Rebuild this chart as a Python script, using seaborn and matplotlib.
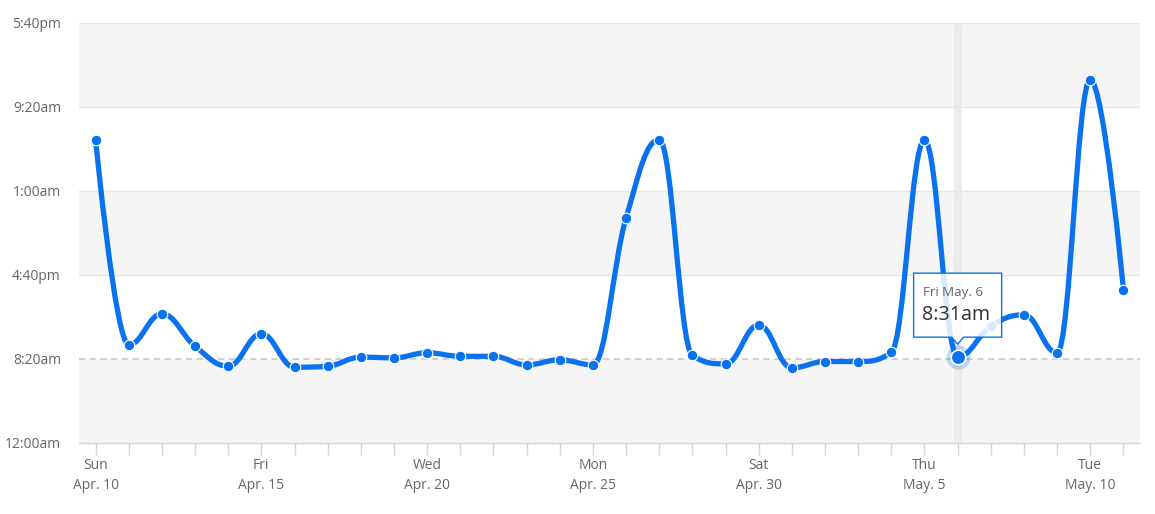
"""
plot.py
Daily time-of-day line (spline) with hover tooltip, Highcharts look.
"""
import numpy as np
import pandas as pd
import matplotlib
matplotlib.use("Agg")
import matplotlib.pyplot as plt
import matplotlib.transforms as mtransforms
from matplotlib.path import Path
from matplotlib.patches import PathPatch, Polygon
import seaborn as sns

# minutes after midnight (axis runs past 24h: 1:00am is 1500 = next day)
MINUTES = [1806, 584, 769, 576, 457, 650, 451, 457, 511, 507, 537, 516, 516,
           465, 495, 465, 1340, 1805, 521, 471, 703, 447, 485, 485, 540, 1803,
           511, 695, 763, 537, 2163, 913]
DAY_TICKS = [0, 5, 10, 15, 20, 25, 30]
DAY_LABELS = ["Sun\nApr. 10", "Fri\nApr. 15", "Wed\nApr. 20", "Mon\nApr. 25",
              "Sat\nApr. 30", "Thu\nMay. 5", "Tue\nMay. 10"]
Y_TICKS = [0, 500, 1000, 1500, 2000, 2500]
Y_LABELS = ["12:00am", "8:20am", "4:40pm", "1:00am", "9:20am", "5:40pm"]
HOVER_IDX = 26
HOVER_DATE = "Fri May. 6"

BLUE = "#0b72ef"


def fmt_time(m):
    m = int(m) % 1440
    h, mm = divmod(m, 60)
    suffix = "am" if h < 12 else "pm"
    h12 = h % 12 or 12
    return f"{h12}:{mm:02d}{suffix}"


def spline_path(xs, ys, smoothing=1.5):
    # Highcharts style spline control points
    n = len(xs)
    denom = smoothing + 1
    left = [(xs[i], ys[i]) for i in range(n)]
    right = [(xs[i], ys[i]) for i in range(n)]
    for i in range(1, n - 1):
        lx, ly = xs[i - 1], ys[i - 1]
        px, py = xs[i], ys[i]
        nx, ny = xs[i + 1], ys[i + 1]
        lcx = (smoothing * px + lx) / denom
        lcy = (smoothing * py + ly) / denom
        rcx = (smoothing * px + nx) / denom
        rcy = (smoothing * py + ny) / denom
        if rcx != lcx:
            corr = ((rcy - lcy) * (rcx - px)) / (rcx - lcx) + py - rcy
            lcy += corr
            rcy += corr
        if lcy > ly and lcy > py:
            lcy = max(ly, py)
            rcy = 2 * py - lcy
        elif lcy < ly and lcy < py:
            lcy = min(ly, py)
            rcy = 2 * py - lcy
        if rcy > ny and rcy > py:
            rcy = max(ny, py)
            lcy = 2 * py - rcy
        elif rcy < ny and rcy < py:
            rcy = min(ny, py)
            lcy = 2 * py - rcy
        left[i] = (lcx, lcy)
        right[i] = (rcx, rcy)
    verts = [(xs[0], ys[0])]
    codes = [Path.MOVETO]
    for i in range(1, n):
        verts += [right[i - 1], left[i], (xs[i], ys[i])]
        codes += [Path.CURVE4] * 3
    return Path(verts, codes)


def main():
    sns.set_theme(style="white")
    plt.rcParams["font.family"] = ["Open Sans", "DejaVu Sans"]

    df = pd.DataFrame({"day": np.arange(len(MINUTES)), "minutes": MINUTES})

    fig = plt.figure(figsize=(11.55, 5.14), dpi=100)
    ax = fig.add_axes([79 / 1155, 1 - 443 / 514, (1140 - 79) / 1155, (443 - 23) / 514])

    # alternating plot bands
    for lo in Y_TICKS[:-1:2]:
        ax.axhspan(lo, lo + 500, color="#f5f5f5", zorder=0, lw=0)
    for y in Y_TICKS[2:]:
        ax.axhline(y, color="#e6e6e6", lw=1, zorder=1)
    ax.axhline(500, color="#c4c4c4", lw=1.1, ls=(0, (4, 3)), zorder=1)

    # hover crosshair
    ax.axvspan(HOVER_IDX - 0.12, HOVER_IDX + 0.12, color="#e9e9e9", alpha=0.8,
               zorder=1.5, lw=0)

    path = spline_path(df["day"].tolist(), df["minutes"].tolist())
    ax.add_patch(PathPatch(path, facecolor="none", edgecolor=BLUE, lw=3.8,
                           capstyle="round", joinstyle="round", zorder=3))
    sns.scatterplot(data=df, x="day", y="minutes", ax=ax, s=58, color=BLUE,
                    edgecolor="white", linewidth=0.8, zorder=4, legend=False)

    hx, hy = df.loc[HOVER_IDX, "day"], df.loc[HOVER_IDX, "minutes"]
    ax.scatter([hx], [hy], s=300, color=BLUE, alpha=0.25, lw=0, zorder=4.5)
    ax.scatter([hx], [hy], s=110, color=BLUE, edgecolor="white", lw=1.2, zorder=5)

    ax.set_xlim(-0.5, len(MINUTES) - 0.5)
    ax.set_ylim(0, 2500)
    ax.set_xticks(df["day"])
    ax.set_xticklabels([DAY_LABELS[DAY_TICKS.index(d)] if d in DAY_TICKS else ""
                        for d in df["day"]])
    ax.set_yticks(Y_TICKS)
    ax.set_yticklabels(Y_LABELS)
    ax.set_xlabel("")
    ax.set_ylabel("")
    for s in ["top", "right", "left"]:
        ax.spines[s].set_visible(False)
    ax.spines["bottom"].set_color("#ccd6eb")
    ax.spines["bottom"].set_linewidth(1)
    ax.spines["bottom"].set_zorder(2)
    ax.tick_params(axis="x", length=8.5, width=1, color="#ccd6eb", pad=2,
                   labelsize=10, labelcolor="#666666", bottom=True)
    ax.tick_params(axis="y", length=0, pad=13, labelsize=10, labelcolor="#666666")
    for t in ax.get_xticklabels():
        t.set_linespacing(1.45)

    # tooltip, drawn in pixel offsets from the hovered point
    trans = mtransforms.Affine2D() + mtransforms.ScaledTranslation(hx, hy, ax.transData)
    box = [(-44, 20), (-6, 20), (0, 13), (6, 20), (44, 20), (44, 84),
           (-44, 84)]
    ax.add_patch(Polygon(box, closed=True, transform=trans, facecolor="white",
                         alpha=0.85, edgecolor="none", zorder=6, clip_on=False))
    ax.add_patch(Polygon(box, closed=True, transform=trans, facecolor="none",
                         edgecolor=BLUE, lw=1, zorder=6.5, clip_on=False,
                         joinstyle="round"))
    ax.text(-35, 65, HOVER_DATE, transform=trans, fontsize=9.6, color="#666666",
            va="center", ha="left", zorder=7)
    ax.text(-36, 42, fmt_time(hy), transform=trans, fontsize=14.2, color="#333333",
            va="center", ha="left", zorder=7)

    fig.savefig("out.png", dpi=100)
    plt.close(fig)


if __name__ == "__main__":
    main()
